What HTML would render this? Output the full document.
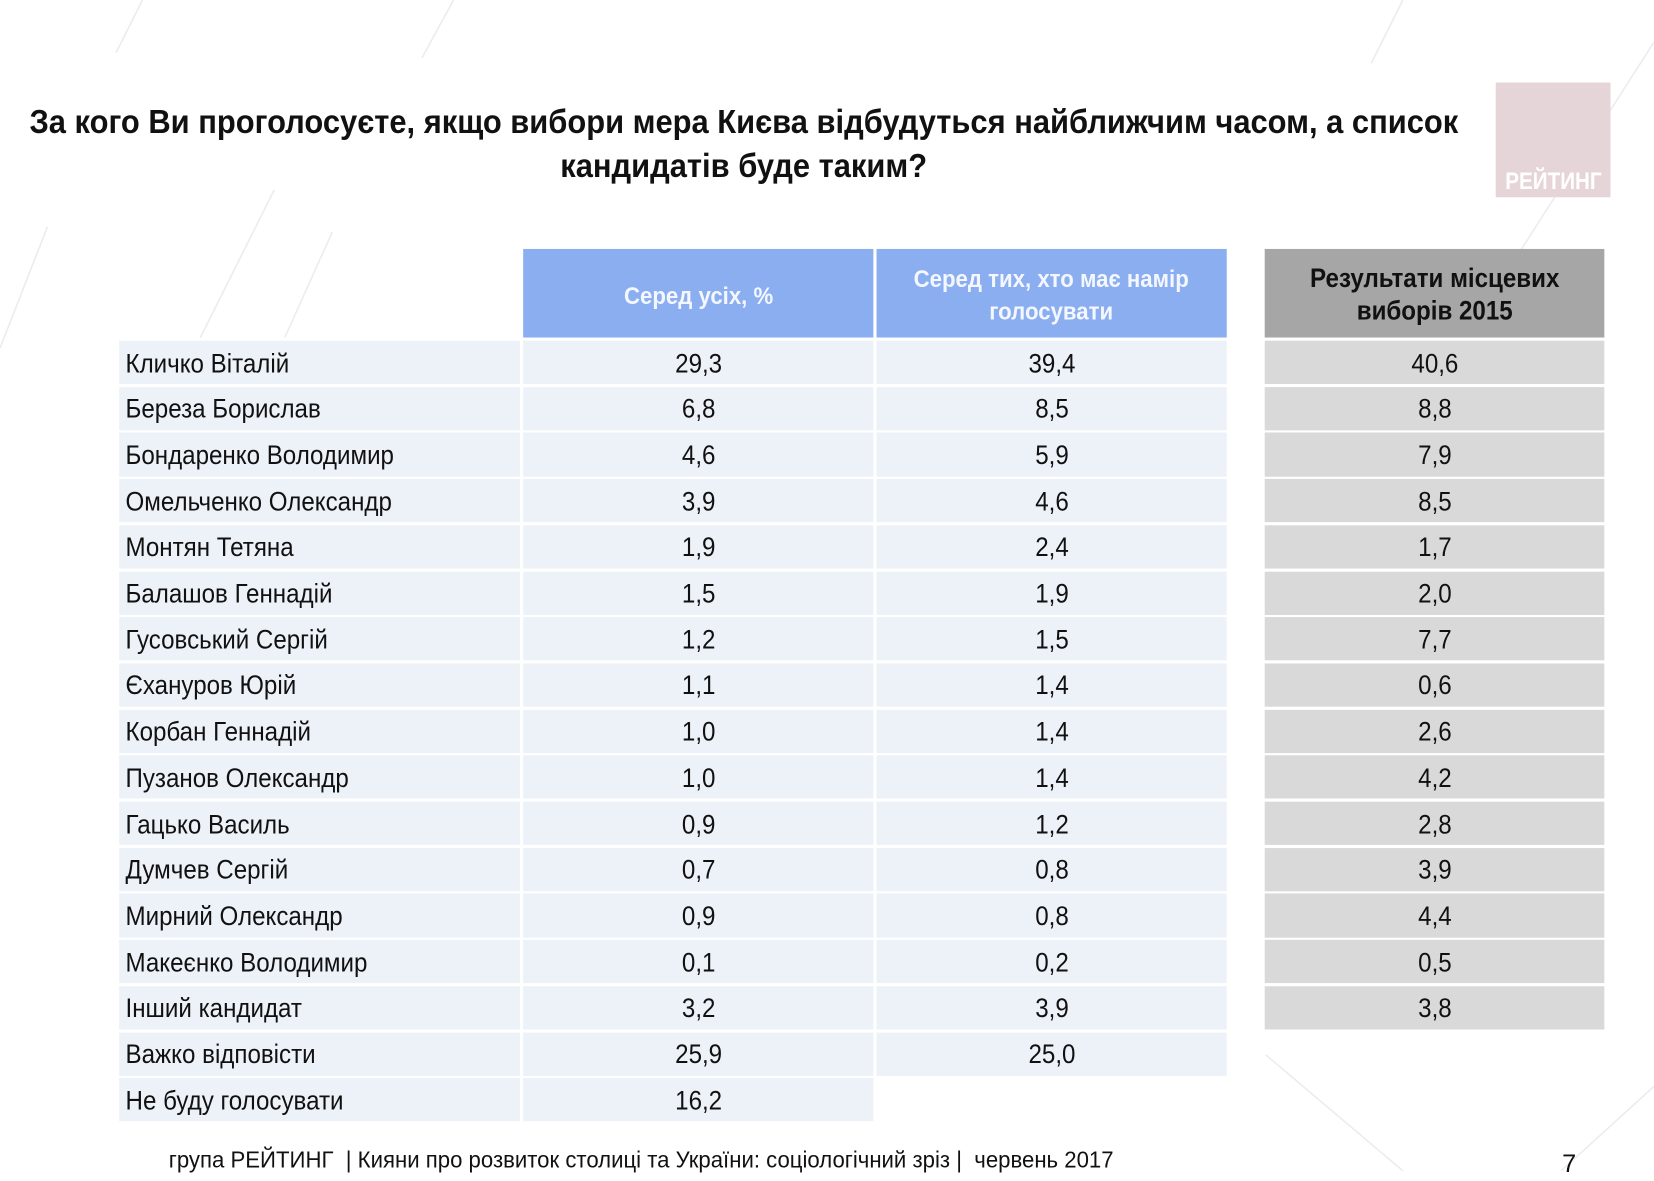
<!DOCTYPE html>
<html><head><meta charset="utf-8">
<style>
html,body{margin:0;padding:0;background:#fff;}
body{width:1654px;height:1181px;overflow:hidden;position:relative;font-family:"Liberation Sans",sans-serif;}
#stage{position:absolute;left:0;top:0;width:1568px;height:1120px;transform:scale(1.0548);transform-origin:0 0;}
.abs{position:absolute;}
.n{display:inline-block;transform:scaleX(0.915);white-space:nowrap;}
.title{position:absolute;left:-200px;width:1810px;text-align:center;font-weight:bold;font-size:32px;color:#111;}
.cell{position:absolute;display:flex;align-items:center;font-size:25px;color:#111;overflow:visible;padding-top:3px;box-sizing:border-box;}
.lab{background:#edf2f9;justify-content:flex-start;padding-left:6px;}
.lab .n{transform-origin:left center;}
.val{background:#edf2f9;justify-content:center;}
.g{background:#d9d9d9;justify-content:center;}
.hd{position:absolute;display:flex;align-items:center;justify-content:center;text-align:center;font-weight:bold;font-size:23px;line-height:31px;padding-top:4px;box-sizing:border-box;}
</style></head><body>
<div id="stage">
<svg class="abs" style="left:0;top:0" width="1568" height="1120">
<g stroke="#ececec" stroke-width="1.5" fill="none">
<line x1="0" y1="330" x2="45" y2="215"/><line x1="190" y1="320" x2="260" y2="180"/><line x1="270" y1="320" x2="315" y2="220"/>
<line x1="110" y1="50" x2="135" y2="0"/><line x1="400" y1="55" x2="430" y2="0"/><line x1="1300" y1="60" x2="1330" y2="0"/>
<line x1="1440" y1="240" x2="1568" y2="40"/><line x1="1480" y1="1110" x2="1568" y2="1030"/><line x1="1200" y1="1000" x2="1330" y2="1110"/>
</g></svg>
<div class="title" style="top:97px"><span class="n" style="transform:scaleX(0.915)">За кого Ви проголосуєте, якщо вибори мера Києва відбудуться найближчим часом, а список</span></div>
<div class="title" style="top:139px"><span class="n" style="transform:scaleX(0.915)">кандидатів буде таким?</span></div>
<div class="abs" style="left:1418px;top:78px;width:109px;height:109px;background:#e6d5d8;">
<div class="abs" style="left:0;bottom:2px;width:109px;text-align:center;color:#fff;font-weight:bold;font-size:23px;"><span class="n" style="transform:scaleX(0.85)">РЕЙТИНГ</span></div></div>
<div class="hd" style="left:496px;top:236px;width:332px;height:84px;background:#8aaef0;color:#f4f7ff"><span class="n">Серед усіх, %</span></div>
<div class="hd" style="left:831px;top:236px;width:332px;height:84px;background:#8aaef0;color:#f4f7ff"><span class="n">Серед тих, хто має намір<br>голосувати</span></div>
<div class="hd" style="left:1199px;top:236px;width:322px;height:84px;background:#a6a6a6;color:#111;font-size:25px"><span class="n">Результати місцевих<br>виборів 2015</span></div>
<div id="rows"></div>
<div class="abs" style="left:160px;top:1087px;font-size:22px;color:#111"><span class="n" style="transform-origin:left center;transform:scaleX(0.955)">група РЕЙТИНГ &nbsp;| Кияни про розвиток столиці та України: соціологічний зріз | &nbsp;червень 2017</span></div>
<div class="abs" style="left:1481px;top:1090px;font-size:24px;color:#111">7</div>
</div>
<script>
const names=["Кличко Віталій","Береза Борислав","Бондаренко Володимир","Омельченко Олександр","Монтян Тетяна","Балашов Геннадій","Гусовський Сергій","Єхануров Юрій","Корбан Геннадій","Пузанов Олександр","Гацько Василь","Думчев Сергій","Мирний Олександр","Макеєнко Володимир","Інший кандидат","Важко відповісти","Не буду голосувати"];
const allVals=["29,3","6,8","4,6","3,9","1,9","1,5","1,2","1,1","1,0","1,0","0,9","0,7","0,9","0,1","3,2","25,9","16,2"];
const voterVals=["39,4","8,5","5,9","4,6","2,4","1,9","1,5","1,4","1,4","1,4","1,2","0,8","0,8","0,2","3,9","25,0",null];
const res2015=["40,6","8,8","7,9","8,5","1,7","2,0","7,7","0,6","2,6","4,2","2,8","3,9","4,4","0,5","3,8",null,null];
const root=document.getElementById('rows');
const top0=323,rh=43.7,gap=2.5;
function mk(cls,x,w,y,txt){const d=document.createElement('div');d.className='cell '+cls;d.style.left=x+'px';d.style.width=w+'px';d.style.top=y+'px';d.style.height=(rh-gap)+'px';const s=document.createElement('span');s.className='n';s.textContent=txt;d.appendChild(s);root.appendChild(d);return d;}
names.forEach((nm,i)=>{const y=top0+i*rh;
const a=mk('lab',113,380,y,nm);


const b=mk('val',496,332,y,allVals[i]);


if(voterVals[i]!==null){const c=mk('val',831,332,y,voterVals[i]);

}
if(res2015[i]!==null){const e=mk('g',1199,322,y,res2015[i]);

}
});
</script>
</body></html>
